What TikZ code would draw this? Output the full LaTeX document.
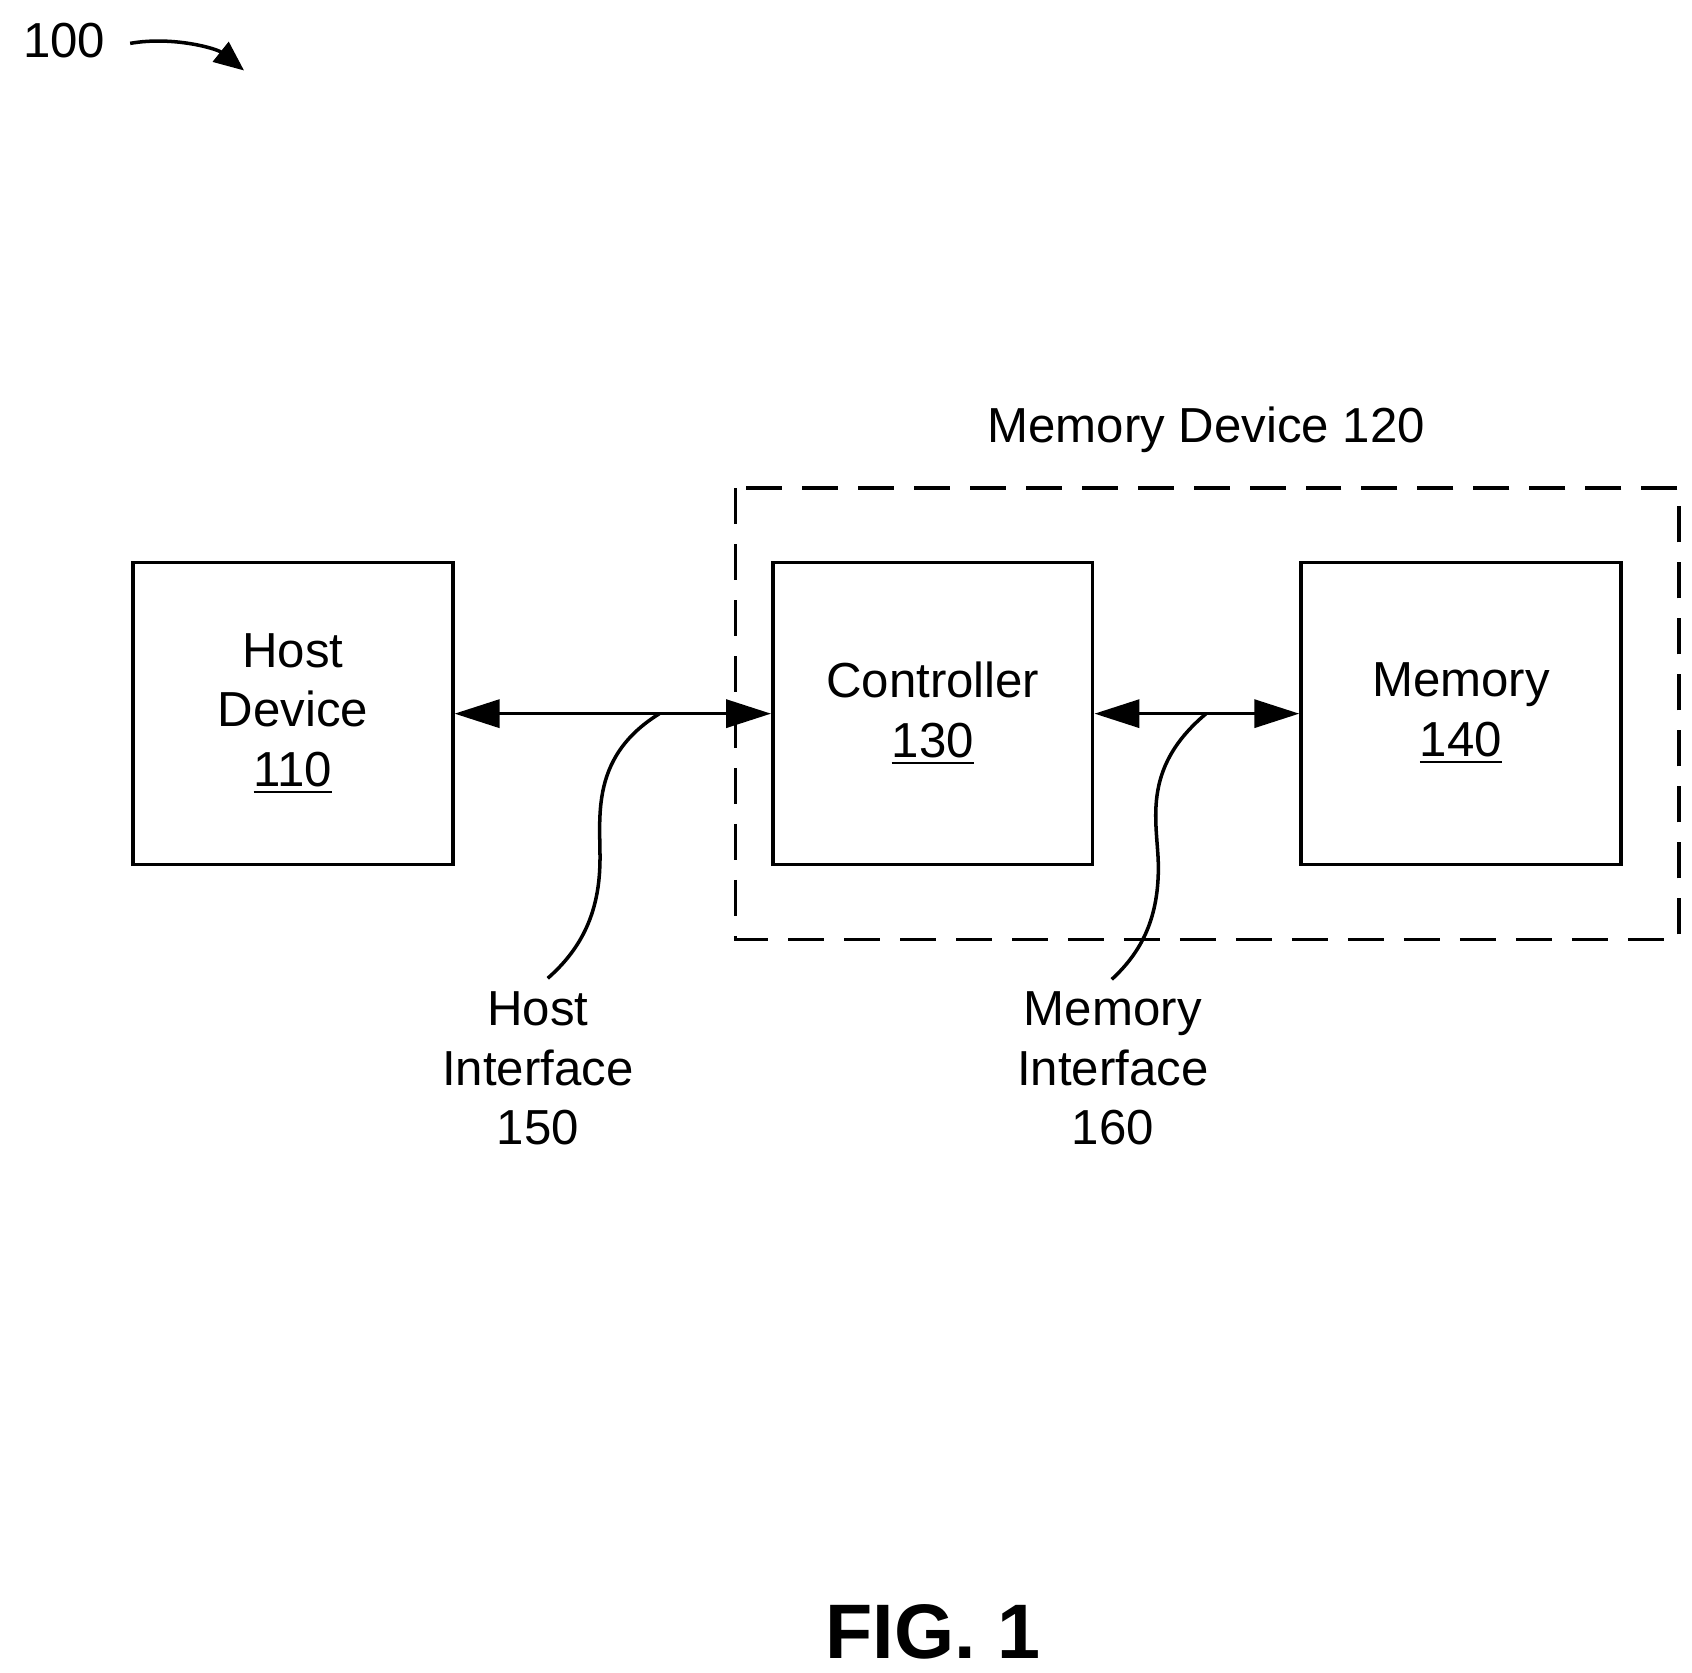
\documentclass[tikz,border=0pt]{standalone}
\usepackage{fontspec}
\setmainfont{Liberation Sans}
\usetikzlibrary{arrows.meta, positioning}

\begin{document}
\begin{tikzpicture}[x=0.010846cm, y=-0.010846cm,
    block/.style={draw, line width=1pt, minimum width=3.2cm, minimum height=3.02cm, align=center, font=\fontsize{14}{17}\selectfont},
    lbl/.style={align=center, font=\fontsize{14}{17}\selectfont},
    biarrow/.style={line width=1pt, {Triangle[length=0.45cm, width=0.28cm]}-{Triangle[length=0.45cm, width=0.28cm]}}]
    \useasboundingbox (0,0) rectangle (1560,1542.5);
    % Figure number
    \node[lbl, anchor=west] (fig) at (10,37) {100};
    \coordinate (figtip) at (225,65);
    \draw[line width=1pt, -{Triangle[length=0.3cm, width=0.25cm]}] (120,40) .. controls (160,33) and (200,45) .. (figtip);
    % Blocks
    \node[block] (host) at (270,658) {Host\\Device\\\underline{110}};
    \node[block] (ctrl) at (860,658) {Controller\\\underline{130}};
    \node[block] (mem) at (1347,658) {Memory\\\underline{140}};
    % Memory device
    \draw[line width=1pt, dash pattern=on 0.36cm off 0.2cm] (678,450) rectangle (1548,866);
    \node[lbl] (memdev) at (1112,396) {Memory Device 120};
    % Interfaces
    \draw[biarrow] (host) -- (ctrl);
    \draw[biarrow] (ctrl) -- (mem);
    \node[lbl] (hostif) at (496,985) {Host\\Interface\\150};
    \node[lbl] (memif) at (1026,985) {Memory\\Interface\\160};
    \coordinate (hostj) at (608,658);
    \coordinate (memj) at (1112,658);
    \draw[line width=1pt] (hostj) .. controls (540,700) and (555,760) .. (553,800) .. controls (551,850) and (530,880) .. (505,902);
    \draw[line width=1pt] (memj) .. controls (1050,710) and (1068,760) .. (1068,800) .. controls (1068,850) and (1050,880) .. (1025,903);
    % Caption
    \node[font=\bfseries\fontsize{22}{26}\selectfont] (caption) at (860,1505) {FIG. 1};
\end{tikzpicture}
\end{document}
